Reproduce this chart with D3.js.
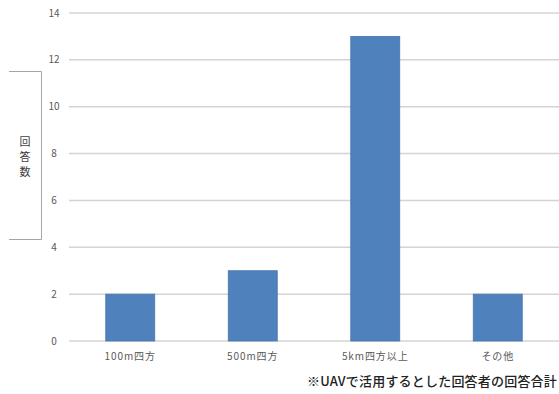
<!DOCTYPE html>
<html>
<head>
<meta charset="utf-8">
<script src="https://cdn.jsdelivr.net/npm/d3@7"></script>
<style>
  body { margin: 0; background: #fff; }
  text { font-family: "Noto Sans CJK JP", "Noto Sans", sans-serif; }
</style>
</head>
<body>
<svg id="chart" width="559" height="394"></svg>
<script>
// data
var categories = ["100m四方", "500m四方", "5km四方以上", "その他"];
var counts = [2, 3, 13, 2];
var yTicks = [0, 2, 4, 6, 8, 10, 12, 14];
var yTitle = ["回", "答", "数"];
var note = "※UAVで活用するとした回答者の回答合計";

var svg = d3.select("#chart");
var margin = {left: 69, right: 0, top: 13, bottom: 53};
var width = 559, height = 394;

var x = d3.scaleBand().domain(categories)
    .range([margin.left, width - margin.right])
    .paddingInner(0.6).paddingOuter(0.3);
var y = d3.scaleLinear().domain([0, 14]).range([height - margin.bottom, margin.top]);

// gridlines
svg.append("g").selectAll("line")
  .data(yTicks).enter().append("line")
    .attr("x1", margin.left).attr("x2", width)
    .attr("y1", d => y(d)).attr("y2", d => y(d))
    .attr("stroke", "#d4d4d4").attr("stroke-width", 1.5);

// y tick labels
svg.append("g").selectAll("text")
  .data(yTicks).enter().append("text")
    .attr("x", 54).attr("y", d => y(d) + 3.5)
    .attr("text-anchor", "middle")
    .attr("font-size", 10).attr("fill", "#595959")
    .text(d => d);

// bars
svg.append("g").selectAll("rect")
  .data(counts).enter().append("rect")
    .attr("x", (d, i) => x(categories[i]))
    .attr("width", x.bandwidth())
    .attr("y", d => y(d))
    .attr("height", d => y(0) - y(d))
    .attr("fill", "#4f81bd")
    .attr("stroke", "#4a76ab").attr("stroke-width", 0.8);

// x labels
svg.append("g").selectAll("text")
  .data(categories).enter().append("text")
    .attr("x", d => x(d) + x.bandwidth() / 2)
    .attr("y", 360)
    .attr("text-anchor", "middle")
    .attr("font-size", 10).attr("letter-spacing", 0.9).attr("fill", "#595959")
    .text(d => d);

// axis title bracket
svg.append("path")
  .attr("d", "M9,71.5H41.5V239.5H9")
  .attr("fill", "none").attr("stroke", "#a6a6a6").attr("stroke-width", 1);

svg.append("g").selectAll("text")
  .data(yTitle).enter().append("text")
    .attr("x", 25).attr("y", (d, i) => 146 + i * 15)
    .attr("text-anchor", "middle")
    .attr("font-size", 11).attr("fill", "#404040")
    .text(d => d);

// footnote
svg.append("text")
  .attr("x", 557).attr("y", 386)
  .attr("text-anchor", "end")
  .attr("font-size", 13).attr("letter-spacing", 0.2)
  .attr("font-weight", 500).attr("fill", "#222")
  .text(note);
</script>
</body>
</html>
